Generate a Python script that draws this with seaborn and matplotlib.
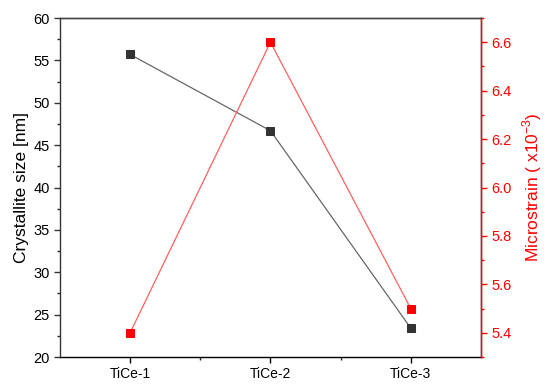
import matplotlib
matplotlib.use("Agg")
import matplotlib.pyplot as plt
import seaborn as sns
import pandas as pd
from matplotlib.ticker import MultipleLocator, FixedLocator

samples = ["TiCe-1", "TiCe-2", "TiCe-3"]
crystallite_size = [55.7, 46.7, 23.4]
microstrain = [5.4, 6.6, 5.5]

sns.set_theme(style="ticks")
plt.rcParams['font.family'] = ['Liberation Sans', 'DejaVu Sans']
plt.rcParams['mathtext.fontset'] = 'custom'
plt.rcParams['mathtext.rm'] = 'Liberation Sans'

df = pd.DataFrame({"pos": [1, 2, 3], "size": crystallite_size, "strain": microstrain})

fig = plt.figure(figsize=(5.5, 3.9), dpi=100)
ax = fig.add_axes([0.109, 0.0846, 0.7655, 0.8692])
ax2 = ax.twinx()

sns.lineplot(data=df, x="pos", y="size", ax=ax, color="#666666", lw=0.9,
             marker="s", markersize=5.5, markerfacecolor="#333333",
             markeredgecolor="#333333", zorder=3)
sns.lineplot(data=df, x="pos", y="strain", ax=ax2, color="#ff6060", lw=0.9,
             marker="s", markersize=5.5, markerfacecolor="#ff0000",
             markeredgecolor="#ff0000", zorder=3)

ax.set_xlim(0.5, 3.5)
ax.set_ylim(20, 60)
ax2.set_ylim(5.3, 6.7)
ax.set_xticks([1, 2, 3])
ax.set_xticklabels(samples)
ax.xaxis.set_minor_locator(FixedLocator([1.5, 2.5]))
ax.yaxis.set_major_locator(MultipleLocator(5))
ax.yaxis.set_minor_locator(MultipleLocator(2.5))
ax2.yaxis.set_major_locator(FixedLocator([5.4, 5.6, 5.8, 6.0, 6.2, 6.4, 6.6]))
ax2.yaxis.set_minor_locator(FixedLocator([5.3, 5.5, 5.7, 5.9, 6.1, 6.3, 6.5, 6.7]))
ax2.set_yticklabels(["5.4", "5.6", "5.8", "6.0", "6.2", "6.4", "6.6"])

ax.set_xlabel("")
ax.set_ylabel("Crystallite size [nm]", fontsize=12.5, color="black", labelpad=3)
ax2.set_ylabel("Microstrain ( x10$^{\\mathrm{-3}}$)", fontsize=12.5, color="red", labelpad=6)

for a in (ax, ax2):
    for s in a.spines.values():
        s.set_linewidth(1.0)
ax.spines["left"].set_color("#333333")
ax.spines["top"].set_color("#444444")
ax.spines["bottom"].set_color("black")
ax2.spines["right"].set_color("red")
ax2.spines["left"].set_visible(False)
ax2.spines["top"].set_color("#444444")
ax2.spines["bottom"].set_visible(False)

ax.tick_params(axis="x", which="major", direction="out", length=4, width=1,
               labelsize=10, colors="black")
ax.tick_params(axis="y", which="major", direction="out", length=4, width=1,
               labelsize=10.5, colors="#333333", labelcolor="black")
ax.tick_params(axis="both", which="minor", direction="out", length=2.5, width=1)
ax2.tick_params(axis="y", which="major", direction="out", length=4, width=1,
                labelsize=10.5, colors="red")
ax2.tick_params(axis="y", which="minor", direction="out", length=2.5, width=1, colors="red")
ax.grid(False)
ax2.grid(False)

fig.savefig("out.png", dpi=100)
